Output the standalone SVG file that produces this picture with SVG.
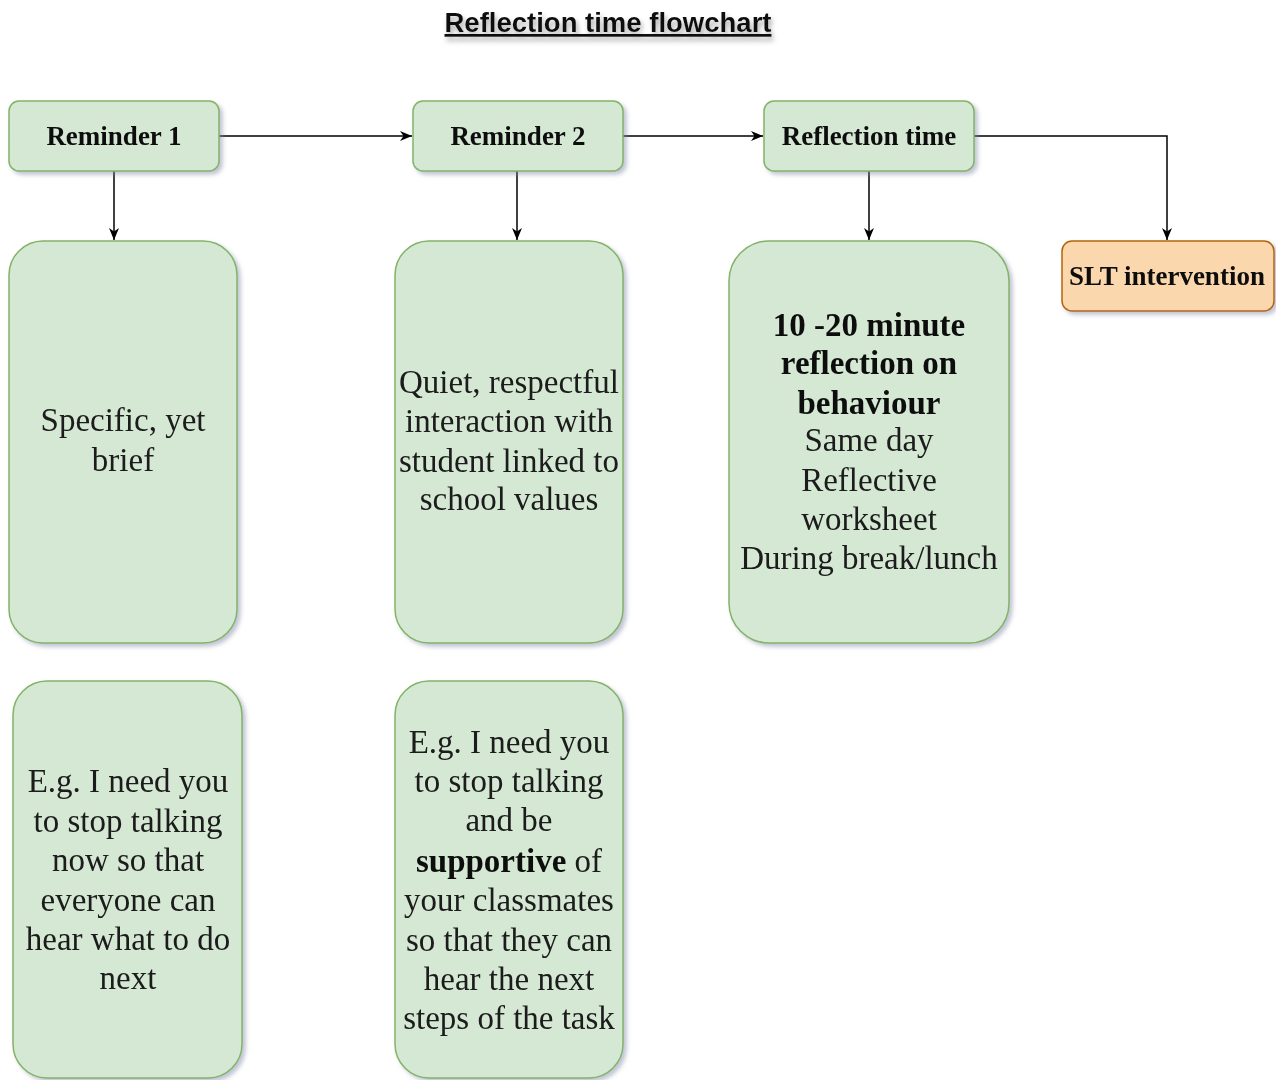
<svg xmlns="http://www.w3.org/2000/svg" width="1276" height="1080" viewBox="0 0 1276 1080">
<style>
.g{fill:#d5e8d4;stroke:#82b366;stroke-width:1.5}
.o{fill:#fad7ac;stroke:#b46504;stroke-width:1.5}
.h{font-family:"Liberation Serif",serif;font-weight:bold;font-size:27px;fill:#111;text-anchor:middle}
.t{font-family:"Liberation Serif",serif;font-size:33px;fill:#1a1a1a;text-anchor:middle}
.b{font-weight:bold;fill:#111}
.c{fill:none;stroke:#000;stroke-width:1.5}
</style>
<defs>
<filter id="sh" x="-10%" y="-10%" width="130%" height="130%">
<feDropShadow dx="3" dy="3" stdDeviation="2" flood-color="#8088a8" flood-opacity="0.5"/>
</filter>
<filter id="tsh" x="-10%" y="-50%" width="120%" height="250%">
<feDropShadow dx="2" dy="4" stdDeviation="2.5" flood-color="#888" flood-opacity="0.7"/>
</filter>
<marker id="ar" viewBox="0 0 12 12" refX="12" refY="6" markerWidth="12" markerHeight="12" markerUnits="userSpaceOnUse" orient="auto">
<path d="M0,1 L12,6 L0,11 L3.5,6 Z" fill="#000"/>
</marker>
</defs>
<rect width="1276" height="1080" fill="#fff"/>
<g id="title" filter="url(#tsh)">
<text x="608" y="32" font-family="Liberation Sans,Arial,sans-serif" font-weight="bold" font-size="27.5" fill="#111" text-anchor="middle" text-decoration="underline">Reflection time flowchart</text>
</g>
<g id="connectors">
<line class="c" x1="219" y1="136" x2="412" y2="136" marker-end="url(#ar)"/>
<line class="c" x1="623" y1="136" x2="763" y2="136" marker-end="url(#ar)"/>
<polyline class="c" points="974,136 1167,136 1167,240" marker-end="url(#ar)"/>
<line class="c" x1="114" y1="171" x2="114" y2="240" marker-end="url(#ar)"/>
<line class="c" x1="517" y1="171" x2="517" y2="240" marker-end="url(#ar)"/>
<line class="c" x1="869" y1="171" x2="869" y2="240" marker-end="url(#ar)"/>
</g>
<g id="reminder1" filter="url(#sh)">
<rect class="g" x="9" y="101" width="210" height="70" rx="10"/>
<text class="h" x="114" y="145">Reminder 1</text>
</g>
<g id="reminder2" filter="url(#sh)">
<rect class="g" x="413" y="101" width="210" height="70" rx="10"/>
<text class="h" x="518" y="145">Reminder 2</text>
</g>
<g id="reflection" filter="url(#sh)">
<rect class="g" x="764" y="101" width="210" height="70" rx="10"/>
<text class="h" x="869" y="145">Reflection time</text>
</g>
<g id="slt" filter="url(#sh)">
<rect class="o" x="1062" y="241" width="212" height="70" rx="10"/>
<text class="h" x="1167" y="285">SLT intervention</text>
</g>
<g id="r1detail" filter="url(#sh)">
<rect class="g" x="9" y="241" width="228" height="402" rx="34"/>
<text class="t" x="123" y="431">Specific, yet</text>
<text class="t" x="123" y="471">brief</text>
</g>
<g id="r2detail" filter="url(#sh)">
<rect class="g" x="395" y="241" width="228" height="402" rx="34"/>
<text class="t" x="509" y="393">Quiet, respectful</text>
<text class="t" x="509" y="432">interaction with</text>
<text class="t" x="509" y="472">student linked to</text>
<text class="t" x="509" y="510">school values</text>
</g>
<g id="rtdetail" filter="url(#sh)">
<rect class="g" x="729" y="241" width="280" height="402" rx="40"/>
<text class="t b" x="869" y="336">10 -20 minute</text>
<text class="t b" x="869" y="374">reflection on</text>
<text class="t b" x="869" y="414">behaviour</text>
<text class="t" x="869" y="451">Same day</text>
<text class="t" x="869" y="491">Reflective</text>
<text class="t" x="869" y="530">worksheet</text>
<text class="t" x="869" y="569">During break/lunch</text>
</g>
<g id="r1example" filter="url(#sh)">
<rect class="g" x="13" y="681" width="229" height="397" rx="34"/>
<text class="t" x="128" y="792">E.g. I need you</text>
<text class="t" x="128" y="832">to stop talking</text>
<text class="t" x="128" y="871">now so that</text>
<text class="t" x="128" y="911">everyone can</text>
<text class="t" x="128" y="950">hear what to do</text>
<text class="t" x="128" y="989">next</text>
</g>
<g id="r2example" filter="url(#sh)">
<rect class="g" x="395" y="681" width="228" height="397" rx="34"/>
<text class="t" x="509" y="753">E.g. I need you</text>
<text class="t" x="509" y="792">to stop talking</text>
<text class="t" x="509" y="831">and be</text>
<text class="t" x="509" y="872"><tspan class="b">supportive</tspan> of</text>
<text class="t" x="509" y="911">your classmates</text>
<text class="t" x="509" y="951">so that they can</text>
<text class="t" x="509" y="990">hear the next</text>
<text class="t" x="509" y="1029">steps of the task</text>
</g>
</svg>
